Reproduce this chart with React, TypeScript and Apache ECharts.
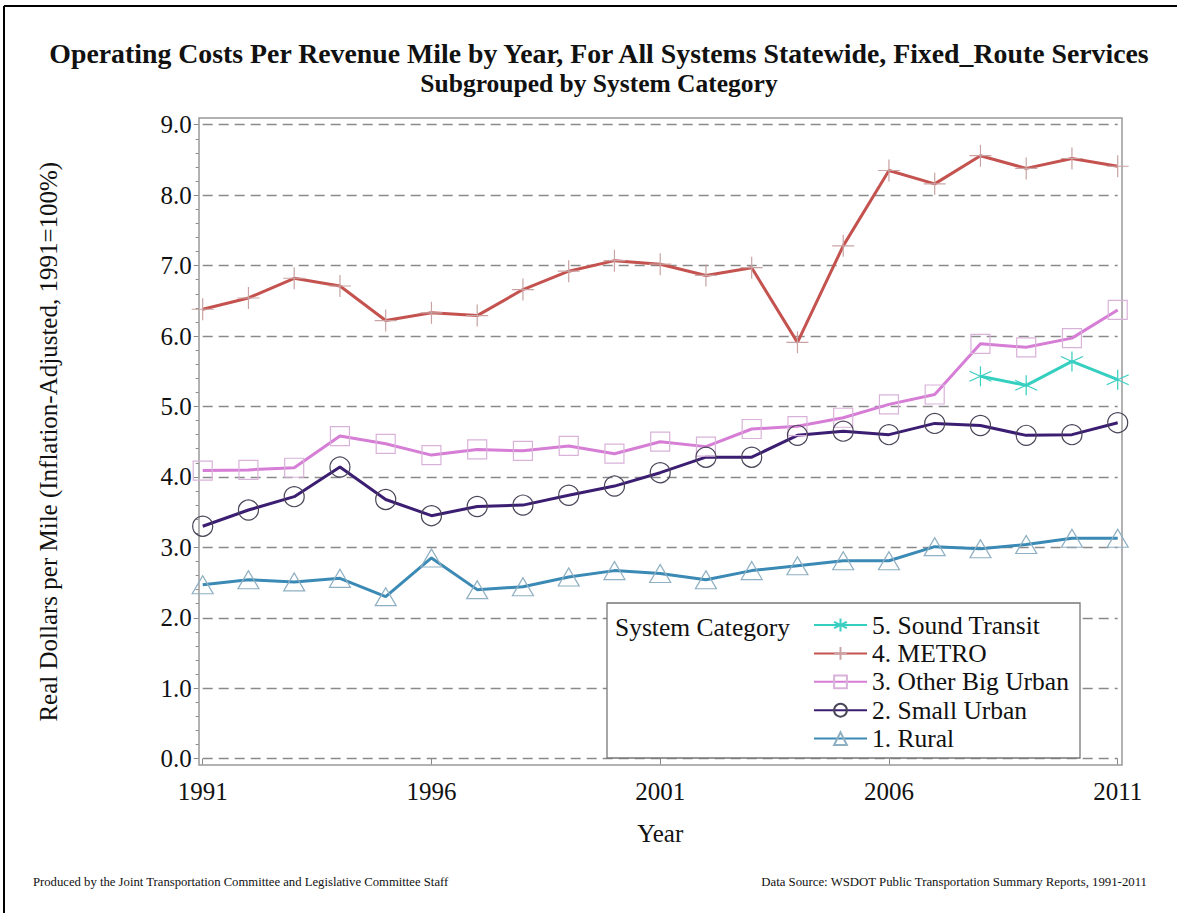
import React, { useEffect, useRef } from "react";
import * as echarts from "echarts";

const years = [1991, 1992, 1993, 1994, 1995, 1996, 1997, 1998, 1999, 2000, 2001, 2002, 2003, 2004, 2005, 2006, 2007, 2008, 2009, 2010, 2011];
const metro = [6.38, 6.54, 6.82, 6.71, 6.22, 6.33, 6.29, 6.66, 6.92, 7.07, 7.02, 6.86, 6.97, 5.91, 7.28, 8.35, 8.16, 8.56, 8.38, 8.52, 8.41];
const otherBigUrban = [4.09, 4.10, 4.13, 4.58, 4.47, 4.31, 4.39, 4.37, 4.44, 4.33, 4.50, 4.43, 4.68, 4.72, 4.84, 5.03, 5.17, 5.89, 5.84, 5.97, 6.37];
const smallUrban = [3.30, 3.53, 3.72, 4.14, 3.68, 3.45, 3.58, 3.60, 3.74, 3.87, 4.06, 4.28, 4.28, 4.59, 4.65, 4.60, 4.76, 4.73, 4.59, 4.60, 4.77];
const rural = [2.47, 2.54, 2.51, 2.56, 2.30, 2.85, 2.40, 2.44, 2.58, 2.67, 2.63, 2.54, 2.67, 2.74, 2.81, 2.81, 3.01, 2.98, 3.04, 3.13, 3.13];
const soundTransitYears = [2008, 2009, 2010, 2011];
const soundTransit = [5.43, 5.30, 5.64, 5.38];
const legendNames = ["5. Sound Transit", "4. METRO", "3. Other Big Urban", "2. Small Urban", "1. Rural"];

const FONT = "'Liberation Serif', 'Times New Roman', serif";

const plusPath = "path://M10,0 L10,20 M0,10 L20,10";
const starPath = "path://M10,0 L10,20 M0,5 L20,15 M0,15 L20,5";

export default function App() {
  const ref = useRef<HTMLDivElement>(null);

  useEffect(() => {
    if (!ref.current) return;
    const chart = echarts.init(ref.current, null, { renderer: "svg" });

    const pairs = (xs: number[], ys: number[]) => xs.map((x, i) => [x, ys[i]]);

    const mkSeries = (
      name: string,
      data: number[][],
      lineColor: string,
      symbol: string,
      markerColor: string,
      size: number | number[]
    ) => ({
      name,
      type: "line",
      data,
      symbol,
      symbolSize: size,
      showAllSymbol: true,
      lineStyle: { color: lineColor, width: 3 },
      itemStyle: { color: "rgba(0,0,0,0)", borderColor: markerColor, borderWidth: 1.2 },
      emphasis: { disabled: true },
      z: 2,
    });

    chart.setOption({
      animation: false,
      backgroundColor: "#ffffff",
      textStyle: { fontFamily: FONT },
      title: [
        {
          text: "Operating Costs Per Revenue Mile by Year, For All Systems Statewide, Fixed_Route Services",
          left: 594,
          textAlign: "center",
          top: 34,
          textStyle: { fontFamily: FONT, fontSize: 27.8, fontWeight: "bold", color: "#111" },
        },
        {
          text: "Subgrouped by System Category",
          left: 594,
          textAlign: "center",
          top: 65,
          textStyle: { fontFamily: FONT, fontSize: 25.5, fontWeight: "bold", color: "#111" },
        },
      ],
      grid: { left: 202.7, right: 59.3, top: 124.7, bottom: 154.3, containLabel: false },
      xAxis: {
        type: "value",
        min: 1991,
        max: 2011,
        interval: 5,
        offset: 6,
        name: "Year",
        nameLocation: "middle",
        nameGap: 56,
        nameTextStyle: { fontFamily: FONT, fontSize: 25, color: "#111" },
        axisLine: { show: false },
        axisTick: { show: true, length: 6, lineStyle: { color: "#888", width: 1 } },
        axisLabel: { fontFamily: FONT, fontSize: 25, color: "#111", margin: 14, formatter: (v: number) => String(v) },
        splitLine: { show: false },
      },
      yAxis: {
        type: "value",
        min: 0,
        max: 9,
        interval: 1,
        offset: 4,
        name: "Real Dollars per Mile (Inflation-Adjusted, 1991=100%)",
        nameLocation: "middle",
        nameGap: 138,
        nameRotate: 90,
        nameTextStyle: { fontFamily: FONT, fontSize: 25, color: "#111" },
        axisLine: { show: false },
        axisTick: { show: true, length: 5, lineStyle: { color: "#888", width: 1 } },
        minorTick: { show: true, splitNumber: 5, length: 3, lineStyle: { color: "#888", width: 1 } },
        axisLabel: { fontFamily: FONT, fontSize: 25, color: "#111", margin: 7, formatter: (v: number) => v.toFixed(1) },
        splitLine: { show: true, lineStyle: { color: "#8a8a8a", width: 1.3, type: [10, 6] } },
      },
      legend: {
        data: legendNames,
        orient: "vertical",
        left: 813,
        top: 612,
        padding: 0,
        itemWidth: 53,
        itemHeight: 16,
        itemGap: 2.4,
        selectedMode: false,
        textStyle: { fontFamily: FONT, fontSize: 25.5, color: "#111", padding: [0, 0, 0, 0] },
        z: 10,
      },
      graphic: [
        { type: "line", shape: { x1: 4, y1: 6, x2: 1177, y2: 6 }, style: { stroke: "#000", lineWidth: 2 }, z: 1 },
        { type: "line", shape: { x1: 4, y1: 6, x2: 4, y2: 913 }, style: { stroke: "#000", lineWidth: 2 }, z: 1 },
        {
          type: "rect",
          shape: { x: 199, y: 118, width: 923, height: 647 },
          style: { fill: "none", stroke: "#999", lineWidth: 1.5 },
          z: 1,
        },
        {
          type: "rect",
          shape: { x: 607, y: 603, width: 473, height: 155 },
          style: { fill: "#fff", stroke: "#777", lineWidth: 1.3 },
          z: 5,
        },
        {
          type: "text",
          x: 615,
          y: 627,
          style: { text: "System Category", fontFamily: FONT, fontSize: 25.5, fill: "#111", verticalAlign: "middle" },
          z: 6,
        },
        {
          type: "text",
          x: 33,
          y: 882,
          style: {
            text: "Produced by the Joint Transportation Committee and Legislative Committee Staff",
            fontFamily: FONT,
            fontSize: 12.7,
            fill: "#111",
            verticalAlign: "middle",
          },
          z: 6,
        },
        {
          type: "text",
          x: 1147,
          y: 882,
          style: {
            text: "Data Source: WSDOT Public Transportation Summary Reports, 1991-2011",
            fontFamily: FONT,
            fontSize: 12.8,
            fill: "#111",
            align: "right",
            verticalAlign: "middle",
          },
          z: 6,
        },
      ],
      series: [
        mkSeries("5. Sound Transit", pairs(soundTransitYears, soundTransit), "#35CFC0", starPath, "#3ccfc2", [22, 20]),
        mkSeries("4. METRO", pairs(years, metro), "#C4524F", plusPath, "#c9a3a3", 22),
        mkSeries("3. Other Big Urban", pairs(years, otherBigUrban), "#D67DD6", "rect", "#d9b2d9", 19),
        mkSeries("2. Small Urban", pairs(years, smallUrban), "#3B1E72", "circle", "#4a4458", 20),
        mkSeries("1. Rural", pairs(years, rural), "#3A8AB5", "triangle", "#8fb0c2", [21, 18]),
      ],
    });

    return () => chart.dispose();
  }, []);

  return <div ref={ref} style={{ position: "fixed", left: 0, top: 0, width: 1177, height: 913 }} />;
}
